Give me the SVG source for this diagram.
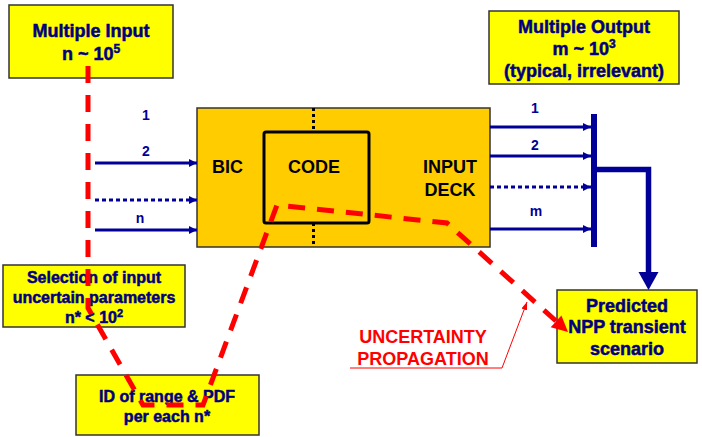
<svg xmlns="http://www.w3.org/2000/svg" width="702" height="437" viewBox="0 0 702 437">
  <style>
    .note { fill: #FFFF00; stroke: #333333; stroke-width: 1.5; }
    .nt { font-family: "Liberation Sans", Arial, sans-serif; font-weight: bold; fill: #000080; stroke: #000080; stroke-width: 0.5; text-anchor: middle; }
    .blk { font-family: "Liberation Sans", Arial, sans-serif; font-weight: bold; font-size: 18px; fill: #000000; }
    .lbl { font-family: "Liberation Sans", Arial, sans-serif; font-weight: bold; font-size: 14px; fill: #000099; text-anchor: middle; }
    .flow { stroke: #000099; stroke-width: 3; fill: none; }
    .dot { stroke-dasharray: 4 3; }
    .unc { stroke: #FF0000; stroke-width: 5; fill: none; stroke-dasharray: 17 12; stroke-linejoin: miter; }
    .red { font-family: "Liberation Sans", Arial, sans-serif; font-weight: bold; font-size: 18px; fill: #FF0000; text-anchor: middle; }
  </style>
  <defs>
    <marker id="ah" markerUnits="userSpaceOnUse" markerWidth="9" markerHeight="10" refX="8" refY="5" orient="auto">
      <path d="M0,1 L8,5 L0,9 z" fill="#000099"/>
    </marker>
    <marker id="ahr" markerUnits="userSpaceOnUse" markerWidth="9" markerHeight="8" refX="8" refY="4" orient="auto">
      <path d="M0,1 L8,4 L0,7 z" fill="#FF0000"/>
    </marker>
  </defs>

  <rect width="702" height="437" fill="#FFFFFF"/>

  <!-- central block: BIC / CODE / INPUT DECK -->
  <g id="model">
    <rect x="197" y="108" width="293" height="139" fill="#FFCC00" stroke="#333333" stroke-width="1.5"/>
    <line x1="313.5" y1="108" x2="313.5" y2="132" stroke="#000000" stroke-width="3" stroke-dasharray="3 3"/>
    <line x1="313.5" y1="223" x2="313.5" y2="247" stroke="#000000" stroke-width="3" stroke-dasharray="3 3"/>
    <rect x="264" y="132" width="105" height="91" rx="2" fill="none" stroke="#000000" stroke-width="3"/>
    <text class="blk" x="212" y="173">BIC</text>
    <text class="blk" x="314" y="173" text-anchor="middle">CODE</text>
    <text class="blk" x="450" y="173" text-anchor="middle">INPUT</text>
    <text class="blk" x="450" y="196" text-anchor="middle">DECK</text>
  </g>

  <g id="multiple-input">
    <rect class="note" x="9" y="5" width="164" height="73"/>
    <text class="nt" font-size="18" x="91" y="37">Multiple Input</text>
    <text class="nt" font-size="18" x="91" y="60">n ~ 10<tspan font-size="12" dy="-7">5</tspan></text>
  </g>

  <g id="multiple-output">
    <rect class="note" x="489" y="11" width="190" height="73"/>
    <text class="nt" font-size="18" x="584" y="33">Multiple Output</text>
    <text class="nt" font-size="18" x="584" y="55">m ~ 10<tspan font-size="12" dy="-7">3</tspan></text>
    <text class="nt" font-size="18" x="584" y="77">(typical, irrelevant)</text>
  </g>

  <g id="selection">
    <rect class="note" x="3" y="265" width="182" height="62"/>
    <text class="nt" font-size="16" x="94" y="283">Selection of input</text>
    <text class="nt" font-size="16" x="94" y="303">uncertain parameters</text>
    <text class="nt" font-size="16" x="94" y="323">n* &lt; 10<tspan font-size="11" dy="-6">2</tspan></text>
  </g>

  <g id="range-pdf">
    <rect class="note" x="76" y="375" width="183" height="60"/>
    <text class="nt" font-size="16" x="167" y="402">ID of range &amp; PDF</text>
    <text class="nt" font-size="16" x="167" y="422">per each n*</text>
  </g>

  <g id="predicted">
    <rect class="note" x="557" y="290" width="140" height="73"/>
    <text class="nt" font-size="18" x="627" y="312">Predicted</text>
    <text class="nt" font-size="18" x="627" y="333">NPP transient</text>
    <text class="nt" font-size="18" x="627" y="355">scenario</text>
  </g>

  <g id="uncertainty-label">
    <text class="red" x="423" y="343">UNCERTAINTY</text>
    <text class="red" x="423" y="365">PROPAGATION</text>
  </g>

  <g id="connectors">
    <!-- inputs into the block -->
    <line class="flow" x1="95" y1="163" x2="197" y2="163" marker-end="url(#ah)"/>
    <line class="flow dot" x1="95" y1="200" x2="197" y2="200" marker-end="url(#ah)"/>
    <line class="flow" x1="95" y1="230" x2="197" y2="230" marker-end="url(#ah)"/>
    <text class="lbl" x="146" y="120">1</text>
    <text class="lbl" x="146" y="156">2</text>
    <text class="lbl" x="140" y="223">n</text>

    <!-- outputs to the collector bar -->
    <line class="flow" x1="490" y1="127" x2="591" y2="127" marker-end="url(#ah)"/>
    <line class="flow" x1="490" y1="156" x2="591" y2="156" marker-end="url(#ah)"/>
    <line class="flow dot" x1="490" y1="187" x2="591" y2="187" marker-end="url(#ah)"/>
    <line class="flow" x1="490" y1="229" x2="591" y2="229" marker-end="url(#ah)"/>
    <text class="lbl" x="535" y="113">1</text>
    <text class="lbl" x="535" y="150">2</text>
    <text class="lbl" x="536" y="216">m</text>

    <!-- collector bar and result arrow -->
    <line x1="594" y1="114" x2="594" y2="247" stroke="#000099" stroke-width="6"/>
    <polyline points="594,169.5 648.5,169.5 648.5,274" fill="none" stroke="#000099" stroke-width="5.5"/>
    <polygon points="638.5,272 658.5,272 648.5,290" fill="#000099"/>

    <!-- uncertainty propagation path -->
    <path class="unc" d="M88,66 L88,308 L143,405 L203,405 L277,205 L447,223 L556,321"/>
    <polygon points="568,332 561.4,315.4 550.7,327.2" fill="#FF0000"/>

    <!-- pointer from the label -->
    <polyline points="350,368 502,368 527,302" fill="none" stroke="#FF0000" stroke-width="1" marker-end="url(#ahr)"/>
  </g>
</svg>
